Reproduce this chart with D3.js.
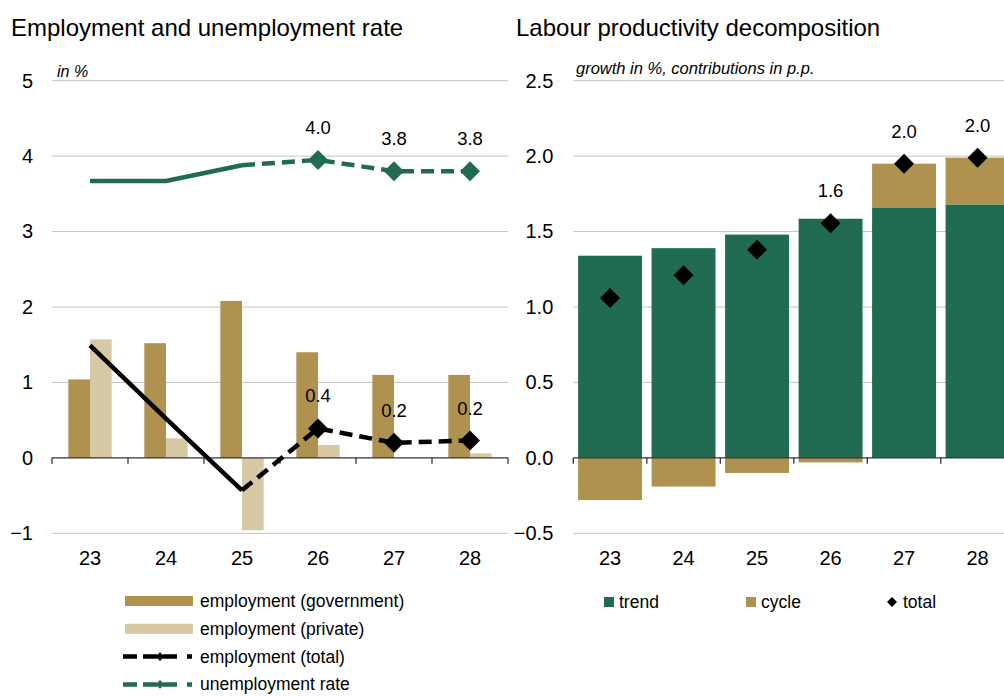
<!DOCTYPE html>
<html>
<head>
<meta charset="utf-8">
<script src="https://cdn.jsdelivr.net/npm/d3@7"></script>
<style>
    body { margin: 0; background: #fff; }
    text { font-family: "Liberation Sans", Arial, sans-serif; fill: #000; }
    .narrow { font-family: "Liberation Sans Narrow", "Arial Narrow", "Liberation Sans", Arial, sans-serif; }
</style>
</head>
<body>
<div id="chart"></div>
<script>
// categories
const years = ["23", "24", "25", "26", "27", "28"]

// left: employment and unemployment rate (in %)
const empGov = [1.04, 1.52, 2.08, 1.40, 1.10, 1.10]
const empPriv = [1.57, 0.26, -0.96, 0.17, 0.0, 0.06]
const empTotal = [1.49, 0.52, -0.43, 0.39, 0.20, 0.23]
const unempRate = [3.67, 3.67, 3.88, 3.95, 3.80, 3.80]
const empTotalLabels = ["", "", "", "0.4", "0.2", "0.2"]
const unempLabels = ["", "", "", "4.0", "3.8", "3.8"]
const forecastFrom = 2   // dashed from 25 on

// right: labour productivity decomposition
const trend = [1.34, 1.39, 1.48, 1.585, 1.66, 1.68]
const cycle = [-0.28, -0.19, -0.10, -0.03, 0.29, 0.31]
const total = [1.06, 1.21, 1.38, 1.555, 1.95, 1.99]
const totalLabels = ["", "", "", "1.6", "2.0", "2.0"]

const leftTicks = [-1, 0, 1, 2, 3, 4, 5]
const rightTicks = [-0.5, 0, 0.5, 1, 1.5, 2, 2.5]

const GOLD = "#af9150", LIGHT = "#d8c9a6", GREEN = "#216b52", GRID = "#c4c4c4"

const svg = d3.select("#chart")
    .append("svg")
    .attr("width", 1004)
    .attr("height", 696)

const top_y = 80.7, bottom_y = 533.3

// ---------- titles ----------
svg.append("text").attr("x", 11).attr("y", 36)
    .style("font-size", "24px").text("Employment and unemployment rate")
svg.append("text").attr("x", 516).attr("y", 36)
    .style("font-size", "24px").text("Labour productivity decomposition")
svg.append("text").attr("x", 57).attr("y", 77)
    .style("font-size", "16px").style("font-style", "italic").text("in %")
svg.append("text").attr("x", 576).attr("y", 74)
    .style("font-size", "16.5px").style("font-style", "italic").text("growth in %, contributions in p.p.")

// ---------- left chart ----------
const yL = d3.scaleLinear().domain([-1, 5]).range([bottom_y, top_y])
const xL = d3.scaleBand().domain(years).range([52, 508])
    .paddingInner(0.43).paddingOuter(0.215)
const xSub = d3.scaleBand().domain(["gov", "priv"]).range([0, xL.bandwidth()])
const cL = d => xL(d) + xL.bandwidth() / 2

const left = svg.append("g")

// gridlines
left.append("g").selectAll("line")
    .data(leftTicks.filter(t => t !== 0))
    .enter().append("line")
    .attr("x1", 52).attr("x2", 508)
    .attr("y1", d => yL(d)).attr("y2", d => yL(d))
    .attr("stroke", GRID).attr("stroke-width", 1)

// y labels
left.append("g")
    .attr("transform", "translate(52,0)")
    .call(d3.axisLeft(yL).tickValues(leftTicks).tickSize(0).tickPadding(19).tickFormat(d3.format("d")))
    .call(g => g.select(".domain").remove())
    .selectAll("text").attr("class", "narrow").style("font-size", "20px").attr("font-family", null)

// bars
const barRows = years.map((y, i) => ({year: y, gov: empGov[i], priv: empPriv[i]}))
left.append("g").selectAll("g")
    .data(barRows)
    .enter().append("g")
    .attr("transform", d => "translate(" + xL(d.year) + ",0)")
    .selectAll("rect")
    .data(d => [{k: "gov", v: d.gov}, {k: "priv", v: d.priv}])
    .enter().append("rect")
    .attr("x", d => xSub(d.k))
    .attr("width", xSub.bandwidth())
    .attr("y", d => yL(Math.max(0, d.v)))
    .attr("height", d => Math.abs(yL(d.v) - yL(0)))
    .attr("fill", d => d.k === "gov" ? GOLD : LIGHT)

// zero axis with boundary ticks
left.append("line")
    .attr("x1", 52).attr("x2", 508)
    .attr("y1", yL(0)).attr("y2", yL(0))
    .attr("stroke", "#333").attr("stroke-width", 1.3)
left.append("g").selectAll("line")
    .data(d3.range(years.length + 1))
    .enter().append("line")
    .attr("x1", i => 52 + i * xL.step()).attr("x2", i => 52 + i * xL.step())
    .attr("y1", yL(0)).attr("y2", yL(0) + 6)
    .attr("stroke", "#333").attr("stroke-width", 1.3)

// x labels
left.append("g")
    .attr("transform", "translate(0," + bottom_y + ")")
    .call(d3.axisBottom(xL).tickSize(0).tickPadding(18))
    .call(g => g.select(".domain").remove())
    .selectAll("text").attr("class", "narrow").style("font-size", "20px").attr("font-family", null)

// lines
const idx = d3.range(years.length)
function drawSeries(g, values, color, labels) {
    const line = d3.line().x(i => cL(years[i])).y(i => yL(values[i]))
    g.append("path")
        .datum(idx.filter(i => i <= forecastFrom))
        .attr("d", line)
        .attr("fill", "none").attr("stroke", color).attr("stroke-width", 4.5)
    g.append("path")
        .datum(idx.filter(i => i >= forecastFrom))
        .attr("d", line)
        .attr("fill", "none").attr("stroke", color).attr("stroke-width", 4.5)
        .attr("stroke-dasharray", "13,7")
    const marked = idx.filter(i => labels[i] !== "")
    g.append("g").selectAll("path")
        .data(marked)
        .enter().append("path")
        .attr("d", d3.symbol(d3.symbolSquare, 200))
        .attr("transform", i => "translate(" + cL(years[i]) + "," + yL(values[i]) + ") rotate(45)")
        .attr("fill", color)
    g.append("g").selectAll("text")
        .data(marked)
        .enter().append("text")
        .attr("class", "narrow")
        .attr("x", i => cL(years[i]))
        .attr("y", i => yL(values[i]) - 26)
        .attr("text-anchor", "middle")
        .style("font-size", "18.5px")
        .text(i => labels[i])
}
drawSeries(left.append("g"), empTotal, "#000", empTotalLabels)
drawSeries(left.append("g"), unempRate, GREEN, unempLabels)

// left legend
const legL = svg.append("g")
const legRows = [
    {label: "employment (government)", kind: "bar", color: GOLD},
    {label: "employment (private)", kind: "bar", color: LIGHT},
    {label: "employment (total)", kind: "line", color: "#000"},
    {label: "unemployment rate", kind: "line", color: GREEN}
]
const legY = i => 601 + i * 27.8
legRows.forEach((r, i) => {
    if (r.kind === "bar") {
        legL.append("rect").attr("x", 125).attr("y", legY(i) - 5)
            .attr("width", 68).attr("height", 10).attr("fill", r.color)
    } else {
        legL.append("line").attr("x1", 123).attr("x2", 193)
            .attr("y1", legY(i)).attr("y2", legY(i))
            .attr("stroke", r.color).attr("stroke-width", 4.5)
            .attr("stroke-dasharray", "14,6,14,6,14,10,5")
        legL.append("path")
            .attr("d", d3.symbol(d3.symbolSquare, 40))
            .attr("transform", "translate(160," + legY(i) + ") rotate(45)")
            .attr("fill", r.color)
    }
    legL.append("text").attr("x", 200).attr("y", legY(i) + 6)
        .style("font-size", "17.5px").text(r.label)
})

// ---------- right chart ----------
const yR = d3.scaleLinear().domain([-0.5, 2.5]).range([bottom_y, top_y])
const xR = d3.scaleBand().domain(years).range([573.3, 1014.3])
    .paddingInner(0.13).paddingOuter(0.065)
const cR = d => xR(d) + xR.bandwidth() / 2

const right = svg.append("g")

right.append("g").selectAll("line")
    .data(rightTicks.filter(t => t !== 0))
    .enter().append("line")
    .attr("x1", 573.3).attr("x2", 1004)
    .attr("y1", d => yR(d)).attr("y2", d => yR(d))
    .attr("stroke", GRID).attr("stroke-width", 1)

right.append("g")
    .attr("transform", "translate(573.3,0)")
    .call(d3.axisLeft(yR).tickValues(rightTicks).tickSize(0).tickPadding(20).tickFormat(d3.format(".1f")))
    .call(g => g.select(".domain").remove())
    .selectAll("text").attr("class", "narrow").style("font-size", "20px").attr("font-family", null)

// stacked bars
const stackRows = years.map((y, i) => ({year: y, trend: trend[i], cycle: cycle[i]}))
right.append("g").selectAll("rect.trend")
    .data(stackRows)
    .enter().append("rect")
    .attr("class", "trend")
    .attr("x", d => xR(d.year)).attr("width", xR.bandwidth())
    .attr("y", d => yR(d.trend))
    .attr("height", d => yR(0) - yR(d.trend))
    .attr("fill", GREEN)
right.append("g").selectAll("rect.cycle")
    .data(stackRows)
    .enter().append("rect")
    .attr("class", "cycle")
    .attr("x", d => xR(d.year)).attr("width", xR.bandwidth())
    .attr("y", d => d.cycle >= 0 ? yR(d.trend + d.cycle) : yR(0))
    .attr("height", d => d.cycle >= 0 ? yR(d.trend) - yR(d.trend + d.cycle) : yR(d.cycle) - yR(0))
    .attr("fill", GOLD)

right.append("line")
    .attr("x1", 573.3).attr("x2", 1004)
    .attr("y1", yR(0)).attr("y2", yR(0))
    .attr("stroke", "#333").attr("stroke-width", 1.3)
right.append("g").selectAll("line")
    .data(d3.range(years.length + 1))
    .enter().append("line")
    .attr("x1", i => 573.3 + i * xR.step()).attr("x2", i => 573.3 + i * xR.step())
    .attr("y1", yR(0)).attr("y2", yR(0) + 6)
    .attr("stroke", "#333").attr("stroke-width", 1.3)

right.append("g")
    .attr("transform", "translate(0," + bottom_y + ")")
    .call(d3.axisBottom(xR).tickSize(0).tickPadding(18))
    .call(g => g.select(".domain").remove())
    .selectAll("text").attr("class", "narrow").style("font-size", "20px").attr("font-family", null)

// total diamonds + labels
right.append("g").selectAll("path")
    .data(idx)
    .enter().append("path")
    .attr("d", d3.symbol(d3.symbolSquare, 200))
    .attr("transform", i => "translate(" + cR(years[i]) + "," + yR(total[i]) + ") rotate(45)")
    .attr("fill", "#000")
right.append("g").selectAll("text")
    .data(idx.filter(i => totalLabels[i] !== ""))
    .enter().append("text")
    .attr("class", "narrow")
    .attr("x", i => cR(years[i]))
    .attr("y", i => yR(total[i]) - 26)
    .attr("text-anchor", "middle")
    .style("font-size", "18.5px")
    .text(i => totalLabels[i])

// right legend
const legR = svg.append("g")
legR.append("rect").attr("x", 604).attr("y", 597).attr("width", 10).attr("height", 10).attr("fill", GREEN)
legR.append("text").attr("x", 619).attr("y", 608).style("font-size", "17.5px").text("trend")
legR.append("rect").attr("x", 746).attr("y", 597).attr("width", 10).attr("height", 10).attr("fill", GOLD)
legR.append("text").attr("x", 761).attr("y", 608).style("font-size", "17.5px").text("cycle")
legR.append("path")
    .attr("d", d3.symbol(d3.symbolSquare, 50))
    .attr("transform", "translate(892,602) rotate(45)")
    .attr("fill", "#000")
legR.append("text").attr("x", 903).attr("y", 608).style("font-size", "17.5px").text("total")
</script>
</body>
</html>
